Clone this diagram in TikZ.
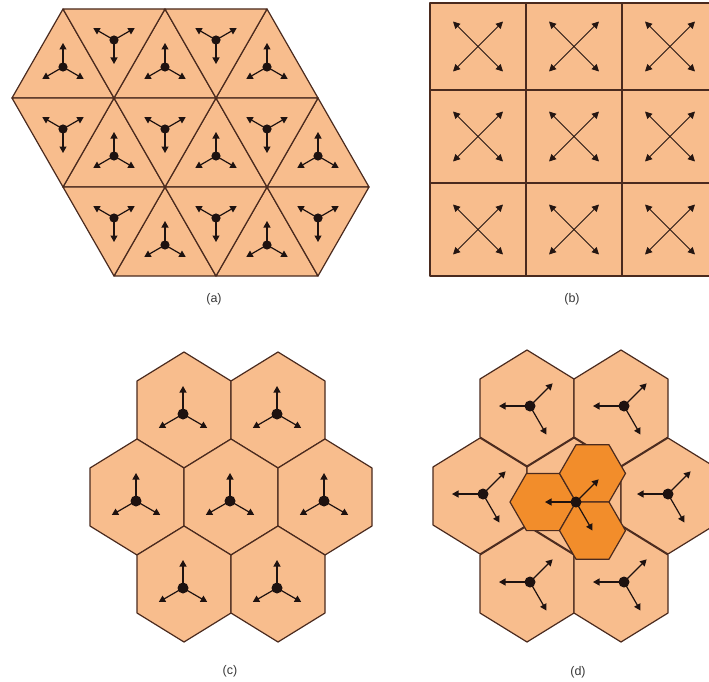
\documentclass[tikz,border=0pt]{standalone}
\usepackage{fontspec}
\setmainfont{Liberation Sans}
\usetikzlibrary{arrows.meta}
\definecolor{peach}{HTML}{F8BD8D}
\definecolor{dorange}{HTML}{F28D2B}
\definecolor{edgec}{HTML}{4A2A1E}
\definecolor{ink}{HTML}{1E1210}
\newcommand{\pkhex}[3]{% name, x, y : pointy-top hexagon
  \coordinate (#1) at (#2,#3);
  \draw[cell] (#1) ++(0,-58) -- ++(47,29) -- ++(0,58) -- ++(-47,29) -- ++(-47,-29) -- ++(0,-58) -- cycle;}
\newcommand{\flhex}[3]{% name, x, y : flat-top hexagon
  \coordinate (#1) at (#2,#3);
  \draw[dcell] (#1) ++(33,0) -- ++(-16.5,28.6) -- ++(-33,0) -- ++(-16.5,-28.6) -- ++(16.5,-28.6) -- ++(33,0) -- cycle;}
\begin{document}
\begin{tikzpicture}[x=1pt,y=-1pt,
  cell/.style={fill=peach,draw=edgec,line width=1.2pt,line join=round},
  dcell/.style={fill=dorange,draw=edgec,line width=1.2pt,line join=round},
  arr/.style={draw=ink,line width=1.2pt,-{Triangle[length=6.5pt,width=7pt]}},
  xarr/.style={draw=ink!85!edgec,line width=1pt,-{Triangle[length=7pt,width=7pt]}},
  dotc/.style={fill=ink},
  lab/.style={font=\fontsize{12.5}{14}\selectfont,text=black!78}]
\useasboundingbox (0,0) rectangle (709,682);
\clip (0,0) rectangle (709,682);
\fill[white] (0,0) rectangle (709,682);

% ---------------- (a) triangles ----------------
\foreach \j/\k/\t in {1/0/1,3/0/1,5/0/1,2/1/1,4/1/1,6/1/1,3/2/1,5/2/1,
                      2/0/0,4/0/0,1/1/0,3/1/0,5/1/0,2/2/0,4/2/0,6/2/0} {
  \ifnum\t=1
    \draw[cell] ({12+51*\j},{9+89*\k}) -- ({12+51*(\j-1)},{9+89*(\k+1)})
                -- ({12+51*(\j+1)},{9+89*(\k+1)}) -- cycle;
  \else
    \draw[cell] ({12+51*(\j-1)},{9+89*\k}) -- ({12+51*(\j+1)},{9+89*\k})
                -- ({12+51*\j},{9+89*(\k+1)}) -- cycle;
  \fi
}
\foreach \j/\k/\t in {1/0/1,3/0/1,5/0/1,2/1/1,4/1/1,6/1/1,3/2/1,5/2/1,
                      2/0/0,4/0/0,1/1/0,3/1/0,5/1/0,2/2/0,4/2/0,6/2/0} {
  \ifnum\t=1
    \coordinate (ta) at ({12+51*\j},{9+89*\k+58});
    \foreach \a in {90,210,330} \draw[arr] (ta) -- ++({-\a}:24);
  \else
    \coordinate (ta) at ({12+51*\j},{9+89*\k+31});
    \foreach \a in {270,150,30} \draw[arr] (ta) -- ++({-\a}:24);
  \fi
  \fill[dotc] (ta) circle[radius=4.6pt];
}
\node[lab] (la) at (214,299) {(a)};

% ---------------- (b) squares ----------------
\foreach \i in {0,1,2} {
  \foreach \ya/\yb in {3/90,90/183,183/276} {
    \draw[cell] ({430+96*\i},\ya) rectangle ({430+96*(\i+1)},\yb);
    \coordinate (sq) at ({478+96*\i},{(\ya+\yb)/2});
    \foreach \dx/\dy in {-25/-25,25/-25,-25/25,25/25}
      \draw[xarr] (sq) -- ++(\dx,\dy);
  }
}
\node[lab] (lb) at (572,299) {(b)};

% ---------------- (c) hexagons ----------------
\foreach \x/\y [count=\n] in {184/410,278/410,137/497,231/497,325/497,184/584,278/584} {
  \pkhex{hc\n}{\x}{\y}
}
\foreach \x/\y [count=\n] in {184/410,278/410,137/497,231/497,325/497,184/584,278/584} {
  \coordinate (gc\n) at ({\x-1},{\y+4});
  \draw[arr] (gc\n) -- ++(-90:28);
  \draw[arr] (gc\n) -- ++(-210:28);
  \draw[arr] (gc\n) -- ++(-330:28);
  \fill[dotc] (gc\n) circle[radius=5.5pt];
}
\node[lab] (lc) at (230,671) {(c)};

% ---------------- (d) hexagons with sectors ----------------
\foreach \x/\y [count=\n] in {527/408,621/408,480/496,574/496,668/496,527/584,621/584} {
  \pkhex{hd\n}{\x}{\y}
}
\flhex{dl}{543}{502}
\flhex{dt}{592.5}{473.4}
\flhex{db}{592.5}{530.6}
\foreach \x/\y [count=\n] in {530/406,624/406,483/494,668/494,530/582,624/582,576/502} {
  \coordinate (gd\n) at (\x,\y);
  \draw[arr] (gd\n) -- ++(-180:31);
  \draw[arr] (gd\n) -- ++(-45:32);
  \draw[arr] (gd\n) -- ++(60:33);
  \fill[dotc] (gd\n) circle[radius=5.5pt];
}
\node[lab] (ld) at (578,672) {(d)};
\end{tikzpicture}
\end{document}
